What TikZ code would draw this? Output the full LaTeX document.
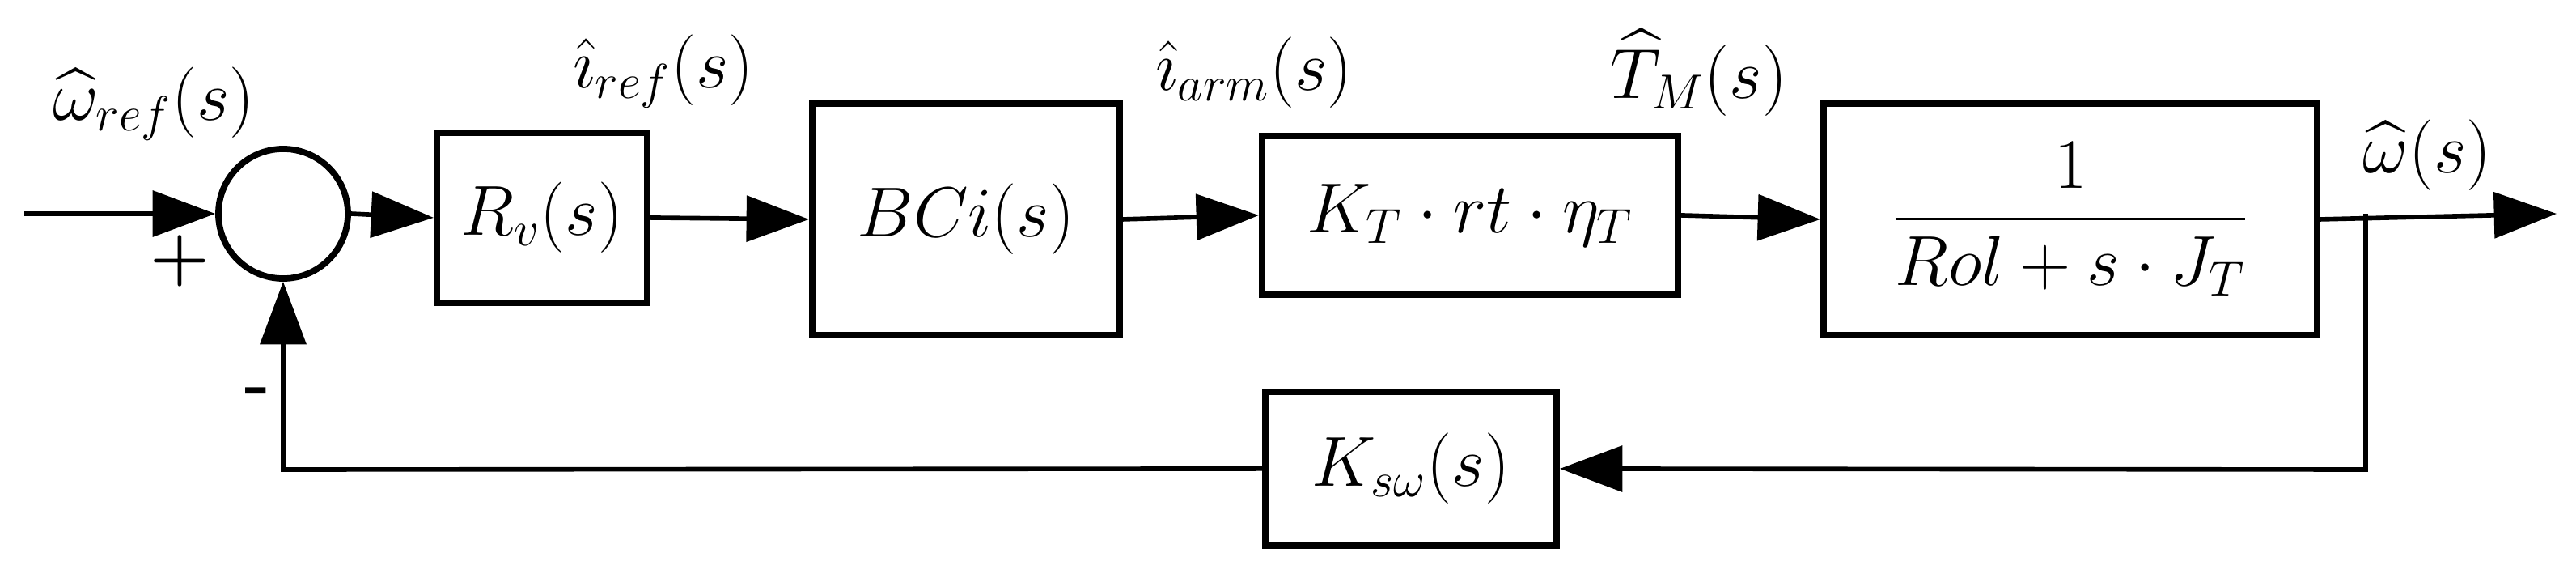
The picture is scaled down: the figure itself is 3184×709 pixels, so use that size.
\documentclass[tikz,border=0pt]{standalone}
\usepackage{amsmath}
\usetikzlibrary{arrows.meta}
\begin{document}
\begin{tikzpicture}[x=0.01cm,y=-0.01cm,
  blk/.style={draw,line width=2.2pt,inner sep=0pt,anchor=north west},
  ln/.style={line width=1.6pt},
  arr/.style={ln,-{Triangle[length=22pt,width=16pt]}},
  lbl/.style={font=\fontsize{24}{28}\selectfont}]
\useasboundingbox (0,0) rectangle (3184,709);
\coordinate (in) at (30,264);
\node[draw,circle,line width=2.2pt,minimum size=1.6cm,inner sep=0pt] (sum) at (350,264) {};
\node[blk,minimum width=2.6cm,minimum height=2.1cm] (rv) at (536,160) {};
\node[lbl] at (rv.center) {$R_v(s)$};
\node[blk,minimum width=3.8cm,minimum height=2.86cm] (bci) at (1000,124) {};
\node[lbl] at (bci.center) {$BCi(s)$};
\node[blk,minimum width=5.14cm,minimum height=1.96cm] (kt) at (1556,164) {};
\node[lbl] at (kt.center) {$K_T\cdot rt\cdot \eta_T$};
\node[blk,minimum width=6.1cm,minimum height=2.86cm] (pl) at (2250,124) {};
\node[lbl] at (pl.center) {$\dfrac{1}{Rol+s\cdot J_T}$};
\node[blk,minimum width=3.6cm,minimum height=1.9cm] (ks) at (1560,480) {};
\node[lbl] at (ks.center) {$K_{s\omega}(s)$};
\coordinate (out) at (3160,264);
\coordinate (br) at (2924,264);
\coordinate (fb) at (2924,580);
\coordinate (fl) at (350,580);
\draw[arr] (in) -- (sum.west);
\draw[arr] (sum.east) -- (rv.west);
\draw[arr] (rv.east) -- (bci.west);
\draw[arr] (bci.east) -- (kt.west);
\draw[arr] (kt.east) -- (pl.west);
\draw[arr] (pl.east) -- (out);
\draw[arr] (br) -- (fb) -- (ks.east);
\draw[arr] (ks.west) -- (fl) -- (sum.south);
\node[lbl] at (190,128) {$\widehat{\omega}_{ref}(s)$};
\node[lbl] at (820,88) {$\hat{\imath}_{ref}(s)$};
\node[lbl] at (1550,90) {$\hat{\imath}_{arm}(s)$};
\node[lbl] at (2100,90) {$\widehat{T}_M(s)$};
\node[lbl] at (3000,192) {$\widehat{\omega}(s)$};
\node[font=\bfseries\fontsize{24}{28}\selectfont] at (222,322) {+};
\node[font=\bfseries\fontsize{24}{28}\selectfont] at (318,490) {-};
\end{tikzpicture}
\end{document}
